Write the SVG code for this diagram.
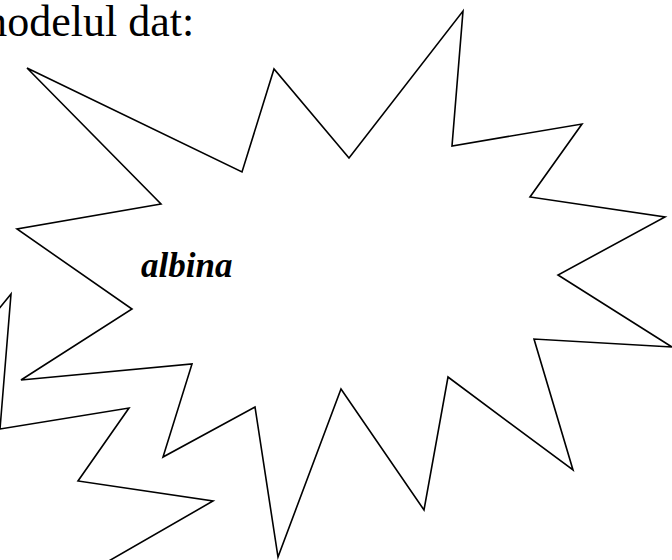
<svg xmlns="http://www.w3.org/2000/svg" width="672" height="560" viewBox="0 0 672 560">
<style>
.star{fill:#fff;stroke:#000;stroke-width:1.6;stroke-linejoin:miter}
.t{font-family:"Liberation Serif","Times New Roman",serif;fill:#000}
</style>
<rect width="672" height="560" fill="#fff"/>
<text class="t" x="-27" y="36" font-size="44">modelul dat:</text>
<g id="star-left">
<polyline class="star" points="-2,310 11,294 0,429 129,408 78,481 213,501 107,562"/>
</g>
<g id="star-main">
<polygon class="star" points="27,68 242,172 274,69 349,158 463,11 452,146 582,124 530,197 665,217 558,275 672,347 534,339 573,470 448,377 424,510 341,389 278,557 255,407 163,457 192,364 21,380 132,309 17,229 161,204"/>
<text class="t" x="141" y="277" font-size="35" font-weight="bold" font-style="italic">albina</text>
</g>
</svg>
